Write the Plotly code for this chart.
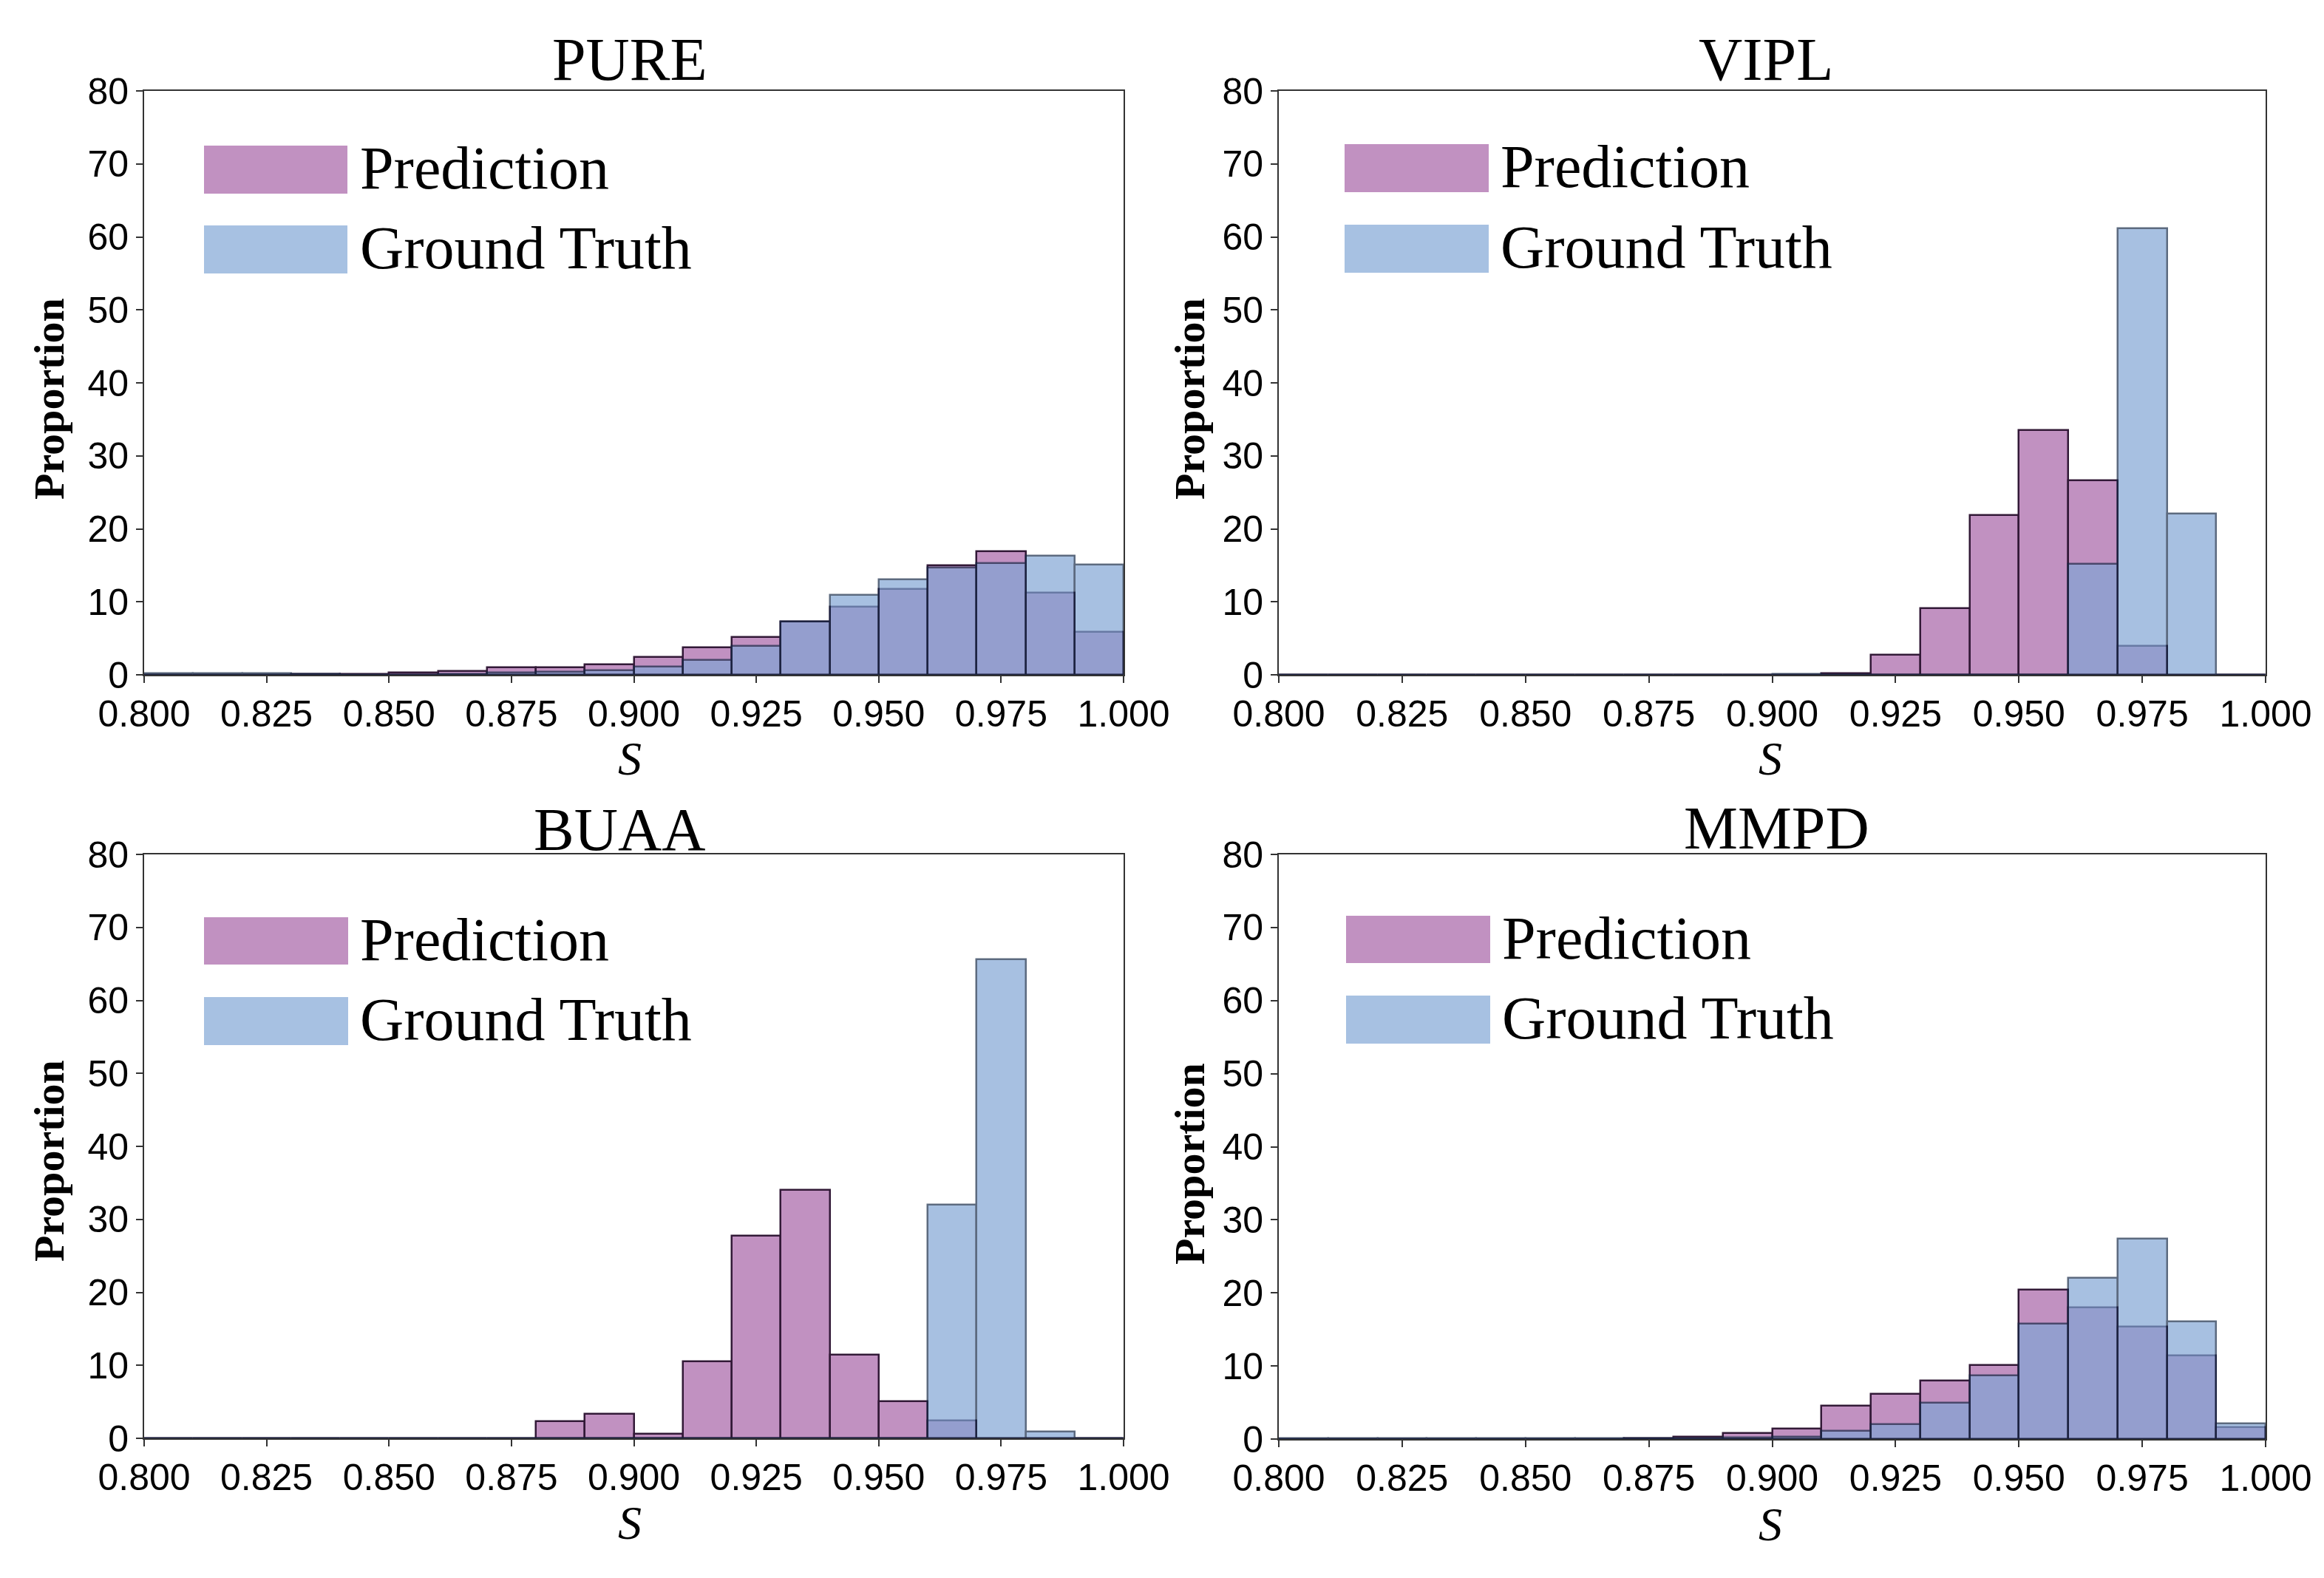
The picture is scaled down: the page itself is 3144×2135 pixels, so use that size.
import plotly.graph_objects as go

W, H = 3144, 2135

# ---------------- data ----------------
BIN_EDGES = [0.80, 0.81, 0.82, 0.83, 0.84, 0.85, 0.86, 0.87, 0.88, 0.89, 0.90,
             0.91, 0.92, 0.93, 0.94, 0.95, 0.96, 0.97, 0.98, 0.99, 1.00]

DATASETS = ["PURE", "VIPL", "BUAA", "MMPD"]

PURE_PRED = [0.05, 0.05, 0.05, 0.1, 0.15, 0.3, 0.5, 1.0, 1.0, 1.45,
             2.45, 3.75, 5.2, 7.3, 9.3, 11.7, 15.0, 16.95, 11.2, 5.9]
PURE_GT = [0.2, 0.2, 0.2, 0.1, 0.05, 0.05, 0.1, 0.3, 0.45, 0.6,
           1.1, 2.0, 3.95, 7.3, 10.9, 13.05, 14.65, 15.3, 16.3, 15.05]

VIPL_PRED = [0, 0, 0, 0, 0, 0, 0, 0, 0, 0,
             0, 0.25, 2.75, 9.15, 21.9, 33.5, 26.6, 3.9, 0, 0]
VIPL_GT = [0, 0, 0, 0, 0, 0, 0, 0, 0, 0,
           0.15, 0, 0, 0, 0, 0, 15.15, 61.2, 22.05, 0]

BUAA_PRED = [0, 0, 0, 0, 0, 0, 0, 0, 2.35, 3.3,
             0.6, 10.5, 27.7, 34.0, 11.45, 5.1, 2.45, 0, 0, 0]
BUAA_GT = [0, 0, 0, 0, 0, 0, 0, 0, 0, 0,
           0, 0, 0, 0, 0, 0, 32.0, 65.6, 0.9, 0]

MMPD_PRED = [0.05, 0.05, 0.05, 0.05, 0.05, 0.05, 0.05, 0.1, 0.3, 0.85,
             1.45, 4.55, 6.2, 8.0, 10.15, 20.4, 18.0, 15.4, 11.4, 1.65]
MMPD_GT = [0.1, 0.1, 0.1, 0.1, 0.1, 0.1, 0.1, 0.1, 0.1, 0.2,
           0.27, 1.1, 2.05, 5.0, 8.65, 15.8, 22.0, 27.4, 16.1, 2.1]

PRED = {"PURE": PURE_PRED, "VIPL": VIPL_PRED, "BUAA": BUAA_PRED, "MMPD": MMPD_PRED}
GT = {"PURE": PURE_GT, "VIPL": VIPL_GT, "BUAA": BUAA_GT, "MMPD": MMPD_GT}

X_TICKS = [0.800, 0.825, 0.850, 0.875, 0.900, 0.925, 0.950, 0.975, 1.000]
Y_TICKS = [0, 10, 20, 30, 40, 50, 60, 70, 80]
LEGEND_LABELS = ["Prediction", "Ground Truth"]

# ---------------- style / layout ----------------
PRED_FILL = "rgb(193,145,193)"
PRED_LINE = "rgb(50,25,55)"
GT_FILL = "rgb(128,165,213)"
GT_LINE = "rgb(20,40,70)"
GT_OPACITY = 0.69
GT_PATCH = "rgb(167,193,226)"

SERIF = "Liberation Serif, Times New Roman, serif"
SANS = "Liberation Sans, Arial, sans-serif"

# panel geometry in pixels: (x0, x1, ytop, ybottom)
PANELS = {
    "PURE": (195, 1520, 123, 913),
    "VIPL": (1730, 3065, 123, 913),
    "BUAA": (195, 1520, 1156, 1946),
    "MMPD": (1730, 3065, 1156, 1947),
}
DECOR = {
    "PURE": dict(title=(852, 80), xl=(852, 1026), yl=(66, 540),
                 rx=(276, 470), ry=((197, 262), (305, 370)), tx=485),
    "VIPL": dict(title=(2389, 80), xl=(2395, 1026), yl=(1609, 540),
                 rx=(1819, 2014), ry=((195, 260), (304, 369)), tx=2028),
    "BUAA": dict(title=(838, 1122), xl=(852, 2060), yl=(66, 1571),
                 rx=(276, 471), ry=((1241, 1305), (1349, 1414)), tx=485),
    "MMPD": dict(title=(2403, 1120), xl=(2395, 2062), yl=(1609, 1575),
                 rx=(1821, 2016), ry=((1239, 1303), (1347, 1412)), tx=2030),
}


def px(x):
    return x / W


def py(y):
    return 1 - y / H


centers = [(BIN_EDGES[i] + BIN_EDGES[i + 1]) / 2 for i in range(len(BIN_EDGES) - 1)]
widths = [BIN_EDGES[i + 1] - BIN_EDGES[i] for i in range(len(BIN_EDGES) - 1)]

fig = go.Figure()
layout = dict(
    width=W, height=H,
    margin=dict(l=0, r=0, t=0, b=0, autoexpand=False),
    paper_bgcolor="white", plot_bgcolor="white",
    barmode="overlay", bargap=0,
    showlegend=False,
)
annotations = []
shapes = []

for i, name in enumerate(DATASETS):
    k = "" if i == 0 else str(i + 1)
    xa, ya = "x" + k, "y" + k
    x0, x1, yt, yb = PANELS[name]

    fig.add_trace(go.Bar(
        x=centers, y=PRED[name], width=widths, xaxis=xa, yaxis=ya,
        marker=dict(color=PRED_FILL, line=dict(color=PRED_LINE, width=2.5)),
        name=LEGEND_LABELS[0],
    ))
    fig.add_trace(go.Bar(
        x=centers, y=GT[name], width=widths, xaxis=xa, yaxis=ya,
        marker=dict(color=GT_FILL, line=dict(color=GT_LINE, width=2.5)),
        opacity=GT_OPACITY, name=LEGEND_LABELS[1],
    ))

    layout["xaxis" + k] = dict(
        domain=[px(x0), px(x1)], anchor=ya, range=[0.8, 1.0],
        automargin=False,
        tickmode="array", tickvals=X_TICKS,
        ticktext=[f"{v:.3f}" for v in X_TICKS],
        ticks="outside", ticklen=9, tickwidth=2, tickcolor="#333",
        ticklabelstandoff=-1,
        showline=True, linecolor="#333", linewidth=2, mirror=True,
        showgrid=False, zeroline=False,
        tickfont=dict(family=SANS, size=50, color="black"),
    )
    layout["yaxis" + k] = dict(
        domain=[py(yb), py(yt)], anchor=xa, range=[0, 80],
        automargin=False,
        tickmode="array", tickvals=Y_TICKS,
        ticks="outside", ticklen=9, tickwidth=2, tickcolor="#333",
        showline=True, linecolor="#333", linewidth=2, mirror=True,
        showgrid=False, zeroline=False,
        tickfont=dict(family=SANS, size=50, color="black"),
    )

    d = DECOR[name]
    annotations.append(dict(
        text=name, x=px(d["title"][0]), y=py(d["title"][1]),
        xref="paper", yref="paper", xanchor="center", yanchor="middle",
        showarrow=False, font=dict(family=SERIF, size=82, color="black"),
    ))
    annotations.append(dict(
        text="<i>S</i>", x=px(d["xl"][0]), y=py(d["xl"][1]),
        xref="paper", yref="paper", xanchor="center", yanchor="middle",
        showarrow=False, font=dict(family=SERIF, size=64, color="black"),
    ))
    annotations.append(dict(
        text="<b>Proportion</b>", x=px(d["yl"][0]), y=py(d["yl"][1]),
        xref="paper", yref="paper", xanchor="center", yanchor="middle",
        textangle=-90, showarrow=False,
        font=dict(family=SERIF, size=58, color="black"),
    ))
    for j, (lab, col) in enumerate(zip(LEGEND_LABELS, [PRED_FILL, GT_PATCH])):
        ry0, ry1 = d["ry"][j]
        shapes.append(dict(
            type="rect", xref="paper", yref="paper",
            x0=px(d["rx"][0]), x1=px(d["rx"][1]), y0=py(ry1), y1=py(ry0),
            fillcolor=col, line=dict(width=0),
        ))
        annotations.append(dict(
            text=lab, x=px(d["tx"]), y=py((ry0 + ry1) / 2 - 2),
            xref="paper", yref="paper", xanchor="left", yanchor="middle",
            showarrow=False, font=dict(family=SERIF, size=82, color="black"),
        ))

layout["annotations"] = annotations
layout["shapes"] = shapes
fig.update_layout(**layout)
fig.write_html(
    "out.html",
    config={"displayModeBar": False},
    post_script="document.body.style.margin='0px';document.body.style.overflow='hidden';",
)
